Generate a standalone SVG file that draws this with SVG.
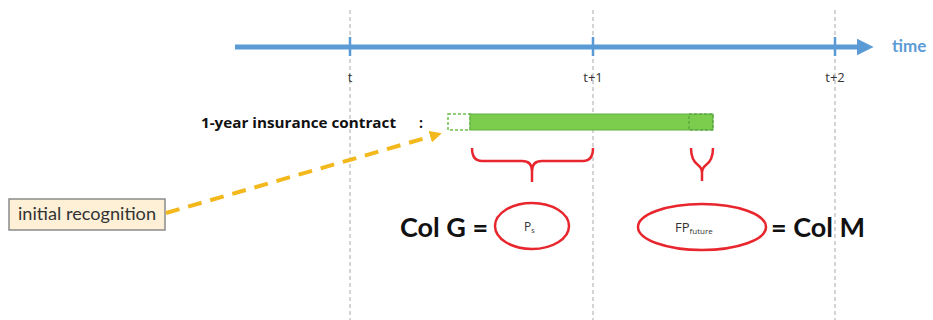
<svg xmlns="http://www.w3.org/2000/svg" width="933" height="320" viewBox="0 0 933 320">
<style>
.grid{stroke:#b8b8b8;stroke-width:1.2;stroke-dasharray:4 3;fill:none}
.axis{stroke:#5b9bd5;stroke-width:5;fill:none}
.tick{stroke:#5b9bd5;stroke-width:2.5}
.lbl{font-family:"Open Sans","DejaVu Sans",sans-serif;font-size:13px;fill:#333}
.bold{font-family:Lato,"Liberation Sans",sans-serif;font-weight:bold;fill:#111}
.brace{stroke:#e8262e;stroke-width:2.5;fill:none;stroke-linejoin:round}
.ell{stroke:#e8262e;stroke-width:2.5;fill:#fff}
.small{font-family:"Open Sans","DejaVu Sans",sans-serif;fill:#333}
</style>
<defs>
<marker id="blueArrow" viewBox="0 0 10 10" refX="2" refY="5" markerWidth="3.4" markerHeight="3.4" orient="auto" markerUnits="strokeWidth">
<path d="M0,0 L10,5 L0,10 z" fill="#5b9bd5"/>
</marker>
<marker id="goldArrow" viewBox="0 0 10 10" refX="5" refY="5" markerWidth="3" markerHeight="3" orient="auto" markerUnits="strokeWidth">
<path d="M0,0 L10,5 L0,10 z" fill="#f2b81c"/>
</marker>
</defs>
<rect width="933" height="320" fill="#fff"/>
<g id="gridlines">
<line class="grid" x1="350" y1="10" x2="350" y2="320"/>
<line class="grid" x1="593" y1="10" x2="593" y2="320"/>
<line class="grid" x1="835" y1="10" x2="835" y2="320"/>
</g>
<g id="timeline">
<line class="axis" x1="235" y1="47" x2="860" y2="47" marker-end="url(#blueArrow)"/>
<line class="tick" x1="350" y1="37" x2="350" y2="56"/>
<line class="tick" x1="593" y1="37" x2="593" y2="56"/>
<line class="tick" x1="835" y1="37" x2="835" y2="56"/>
<text x="892" y="52" font-family="Lato,'Open Sans',sans-serif" font-weight="bold" font-size="17" fill="#5b9bd5">time</text>
<text class="lbl" x="350" y="82" text-anchor="middle">t</text>
<text class="lbl" x="593" y="82" text-anchor="middle">t+1</text>
<text class="lbl" x="835" y="82" text-anchor="middle">t+2</text>
</g>
<g id="contract">
<text x="201" y="128" font-family="'Open Sans','DejaVu Sans',sans-serif" font-weight="bold" font-size="14" fill="#111" textLength="195" lengthAdjust="spacingAndGlyphs">1-year insurance contract</text>
<text x="419" y="128" font-family="'Open Sans','DejaVu Sans',sans-serif" font-weight="bold" font-size="14" fill="#111">:</text>
<rect x="448" y="114" width="22" height="16" fill="#fff" stroke="#6cc04a" stroke-width="1.5" stroke-dasharray="3 2"/>
<rect x="470" y="114" width="243" height="16" fill="#7ccc4e" stroke="#5fae3e" stroke-width="1"/>
<rect x="689" y="114" width="24" height="16" fill="none" stroke="#4e9a36" stroke-width="1" stroke-dasharray="3 2"/>
</g>
<g id="initial-recognition">
<rect x="9" y="199" width="156" height="31" fill="#fdf0d7" stroke="#8a8a8a" stroke-width="1.5"/>
<text x="18" y="220" font-family="Lato,'Open Sans',sans-serif" font-size="17" fill="#333" textLength="138" lengthAdjust="spacingAndGlyphs">initial recognition</text>
</g>
<g id="connectors">
<line x1="166" y1="213" x2="436" y2="135" stroke="#f2b81c" stroke-width="4" stroke-dasharray="14 9" marker-end="url(#goldArrow)"/>
</g>
<g id="brace-ps">
<path class="brace" d="M472,148 Q472,161 482,161 L522,161 Q532,161 532,171 L532,182 M532,171 Q532,161 542,161 L583,161 Q593,161 593,148"/>
</g>
<g id="brace-fp">
<path class="brace" d="M691,148 Q691,160 698,165 Q702,168 702,173 L702,181 M702,173 Q702,168 706,165 Q713,160 713,148"/>
</g>
<g id="ps">
<ellipse class="ell" cx="532" cy="226" rx="37" ry="23"/>
<text class="small" x="524" y="231" font-size="12">P<tspan font-size="7" dy="2">s</tspan></text>
</g>
<g id="fp">
<ellipse class="ell" cx="702" cy="227" rx="64" ry="23"/>
<text class="small" x="675" y="232" font-size="13">FP<tspan font-size="8" dy="2">future</tspan></text>
</g>
<g id="colG">
<text class="bold" x="400" y="237" font-size="27">Col G =</text>
</g>
<g id="colM">
<text class="bold" x="771" y="237" font-size="27">= Col M</text>
</g>
</svg>
